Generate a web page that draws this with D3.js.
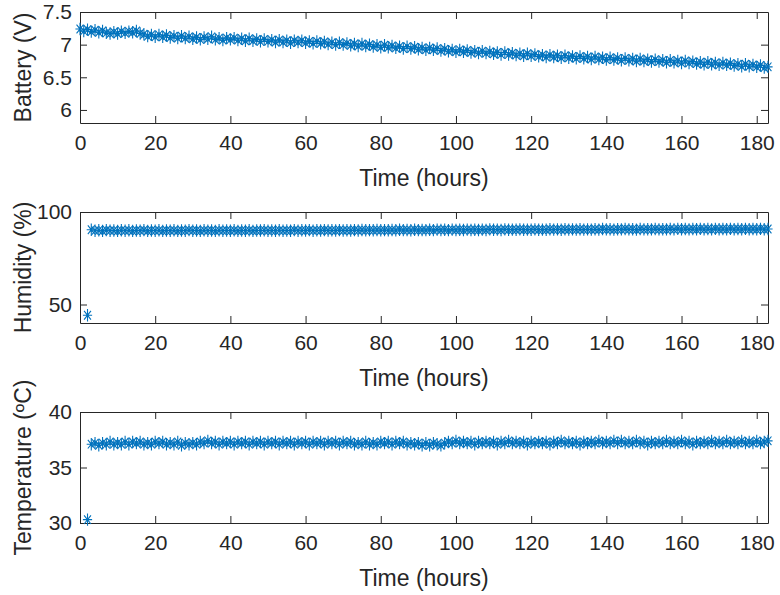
<!DOCTYPE html>
<html>
<head>
<meta charset="utf-8">
<script src="https://cdn.jsdelivr.net/npm/d3@7"></script>
<style>
  body { margin: 0; background: #fff; }
  svg { display: block; }
  .axis path, .axis line { stroke: #262626; }
  .axis text { fill: #262626; font-family: "Liberation Sans", Arial, sans-serif; font-size: 21px; }
</style>
</head>
<body>
<div id="chart"></div>
<script>
// hours for each sample
var batteryHours = d3.range(0, 184);
var envHours = d3.range(2, 184);

var battery = [
  7.24,7.21,7.23,7.20,7.22,7.19,7.21,7.18,7.17,7.19,
  7.17,7.20,7.18,7.20,7.19,7.21,7.17,7.16,7.13,7.15,
  7.12,7.15,7.12,7.14,7.11,7.13,7.10,7.13,7.10,7.12,
  7.09,7.11,7.08,7.11,7.09,7.12,7.08,7.10,7.07,7.10,
  7.08,7.10,7.07,7.09,7.06,7.09,7.06,7.08,7.05,7.08,
  7.05,7.07,7.04,7.07,7.04,7.06,7.03,7.06,7.04,7.06,
  7.03,7.05,7.02,7.05,7.02,7.04,7.01,7.03,7.00,7.03,
  7.00,7.02,6.99,7.01,6.98,7.01,6.98,7.00,6.97,6.99,
  6.96,6.99,6.96,6.98,6.95,6.97,6.94,6.97,6.94,6.96,
  6.93,6.95,6.92,6.95,6.92,6.94,6.91,6.93,6.90,6.92,
  6.89,6.92,6.89,6.91,6.88,6.90,6.87,6.90,6.87,6.89,
  6.86,6.88,6.85,6.88,6.85,6.87,6.84,6.86,6.83,6.86,
  6.83,6.85,6.82,6.84,6.81,6.84,6.81,6.83,6.80,6.83,
  6.80,6.82,6.79,6.82,6.79,6.81,6.78,6.81,6.78,6.80,
  6.77,6.80,6.77,6.79,6.76,6.79,6.76,6.78,6.75,6.78,
  6.75,6.77,6.74,6.77,6.74,6.76,6.73,6.76,6.73,6.75,
  6.72,6.75,6.72,6.74,6.71,6.73,6.70,6.73,6.70,6.72,
  6.69,6.72,6.69,6.71,6.68,6.70,6.67,6.70,6.67,6.69,
  6.66,6.68,6.65,6.66
];

var humidity = [
  44.2,
  90.4,89.9,90.1,89.8,90.2,89.9,90.0,89.8,90.1,89.9,
  90.1,89.8,90.0,89.9,90.2,89.8,90.0,89.9,90.1,89.8,
  90.0,89.9,90.1,89.8,90.0,89.9,90.2,89.9,90.0,89.8,
  90.1,89.9,90.0,89.8,90.1,89.9,90.0,89.9,90.1,89.8,
  90.0,89.9,90.1,89.8,90.0,90.0,90.1,89.9,90.0,89.9,
  90.1,89.9,90.0,89.9,90.2,89.9,90.1,90.0,90.2,89.9,
  90.1,90.0,90.2,90.0,90.1,90.0,90.2,90.0,90.1,90.0,
  90.2,90.0,90.3,90.1,90.2,90.1,90.3,90.1,90.2,90.1,
  90.3,90.1,90.4,90.2,90.3,90.1,90.4,90.2,90.3,90.2,
  90.4,90.2,90.5,90.3,90.4,90.2,90.5,90.3,90.4,90.3,
  90.5,90.3,90.4,90.3,90.5,90.3,90.6,90.4,90.5,90.3,
  90.6,90.4,90.5,90.4,90.6,90.4,90.5,90.4,90.6,90.4,
  90.5,90.4,90.7,90.5,90.6,90.4,90.7,90.5,90.6,90.5,
  90.7,90.5,90.6,90.5,90.7,90.5,90.8,90.6,90.7,90.5,
  90.7,90.6,90.8,90.6,90.7,90.5,90.8,90.6,90.7,90.6,
  90.8,90.6,90.7,90.6,90.8,90.6,90.9,90.7,90.8,90.6,
  90.8,90.7,90.9,90.7,90.8,90.6,90.9,90.7,90.8,90.7,
  90.9,90.7,90.8,90.7,90.9,90.7,90.8,90.7,90.9,90.7,
  90.8
];

var temperature = [
  30.3,
  37.1,37.2,37.0,37.2,37.1,37.3,37.1,37.2,37.1,37.3,
  37.1,37.3,37.2,37.3,37.1,37.2,37.1,37.3,37.2,37.3,
  37.1,37.2,37.1,37.3,37.0,37.2,37.1,37.2,37.1,37.3,
  37.2,37.4,37.2,37.3,37.1,37.3,37.2,37.3,37.1,37.3,
  37.2,37.3,37.1,37.3,37.2,37.3,37.1,37.3,37.2,37.3,
  37.1,37.3,37.2,37.3,37.1,37.3,37.2,37.3,37.1,37.3,
  37.2,37.3,37.1,37.3,37.2,37.3,37.1,37.3,37.2,37.3,
  37.1,37.2,37.1,37.3,37.1,37.2,37.1,37.3,37.2,37.3,
  37.1,37.3,37.2,37.3,37.1,37.2,37.1,37.2,37.0,37.2,
  37.0,37.2,37.1,37.0,37.2,37.3,37.2,37.4,37.2,37.3,
  37.2,37.3,37.1,37.3,37.2,37.3,37.2,37.3,37.1,37.3,
  37.2,37.4,37.2,37.3,37.2,37.3,37.1,37.3,37.2,37.3,
  37.2,37.3,37.1,37.3,37.2,37.4,37.2,37.3,37.2,37.3,
  37.1,37.3,37.2,37.3,37.2,37.4,37.2,37.3,37.2,37.4,
  37.2,37.4,37.2,37.3,37.2,37.4,37.2,37.3,37.1,37.3,
  37.2,37.3,37.2,37.4,37.2,37.3,37.2,37.4,37.2,37.3,
  37.1,37.3,37.2,37.3,37.2,37.4,37.2,37.3,37.2,37.4,
  37.2,37.3,37.2,37.4,37.2,37.3,37.2,37.4,37.2,37.3,
  37.4
];

var xTicks = [0, 20, 40, 60, 80, 100, 120, 140, 160, 180];
var batteryTicks = [6, 6.5, 7, 7.5];
var humidityTicks = [50, 100];
var temperatureTicks = [30, 35, 40];

var width = 780, height = 595;
var left = 80, right = 768;
var color = '#0072BD';

var svg = d3.select('#chart').append('svg')
    .attr('width', width)
    .attr('height', height)
    .attr('font-family', '"Liberation Sans", Arial, sans-serif');

var x = d3.scaleLinear().domain([0, 183]).range([left, right]);

var panels = [
  {top: 12,  bottom: 123, domain: [5.8, 7.5], ticks: batteryTicks, hours: batteryHours, values: battery, label: 'Battery (V)'},
  {top: 212, bottom: 323, domain: [40, 100], ticks: humidityTicks, hours: envHours, values: humidity, label: 'Humidity (%)'},
  {top: 412, bottom: 523, domain: [30, 40], ticks: temperatureTicks, hours: envHours, values: temperature, label: 'Temperature (\u00BAC)'}
];

// asterisk marker like matlab '*' (a bit taller than wide, as in the picture)
var rx = 4.6, ry = 6.2, dx = rx * 0.75, dy = ry * 0.7;
var star = 'M' + (-rx) + ',0H' + rx + 'M0,' + (-ry) + 'V' + ry +
           'M' + (-dx) + ',' + (-dy) + 'L' + dx + ',' + dy +
           'M' + (-dx) + ',' + dy + 'L' + dx + ',' + (-dy);

panels.forEach(function(p) {
  var y = d3.scaleLinear().domain(p.domain).range([p.bottom, p.top]);
  var fmt = function(v) { return String(v); };

  svg.append('g').attr('class', 'axis')
      .attr('transform', 'translate(0,' + p.bottom + ')')
      .call(d3.axisBottom(x).tickValues(xTicks).tickSize(-7).tickPadding(12).tickSizeOuter(0).tickFormat(fmt));

  svg.append('g').attr('class', 'axis')
      .attr('transform', 'translate(0,' + p.top + ')')
      .call(d3.axisTop(x).tickValues(xTicks).tickSize(-7).tickSizeOuter(0).tickFormat(''));

  svg.append('g').attr('class', 'axis')
      .attr('transform', 'translate(' + left + ',0)')
      .call(d3.axisLeft(y).tickValues(p.ticks).tickSize(-7).tickPadding(8).tickSizeOuter(0).tickFormat(fmt));

  svg.append('g').attr('class', 'axis')
      .attr('transform', 'translate(' + right + ',0)')
      .call(d3.axisRight(y).tickValues(p.ticks).tickSize(-7).tickSizeOuter(0).tickFormat(''));

  var pts = p.values.map(function(v, i) { return [p.hours[i], v]; });

  svg.append('g').selectAll('path')
      .data(pts)
      .enter().append('path')
      .attr('d', star)
      .attr('transform', function(e) { return 'translate(' + x(e[0]) + ',' + y(e[1]) + ')'; })
      .attr('fill', 'none')
      .attr('stroke', color)
      .attr('stroke-width', 1.1);

  svg.append('text')
      .attr('x', (left + right) / 2)
      .attr('y', p.bottom + 63)
      .attr('text-anchor', 'middle')
      .attr('font-size', 23)
      .attr('fill', '#262626')
      .text('Time (hours)');

  svg.append('text')
      .attr('transform', 'translate(31,' + ((p.top + p.bottom) / 2) + ') rotate(-90)')
      .attr('text-anchor', 'middle')
      .attr('font-size', 23)
      .attr('fill', '#262626')
      .text(p.label);
});
</script>
</body>
</html>
